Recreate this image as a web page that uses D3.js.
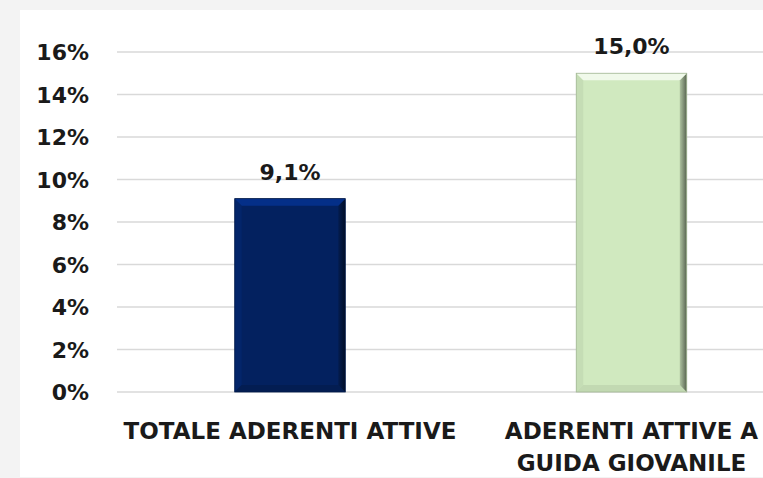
<!DOCTYPE html>
<html>
<head>
<meta charset="utf-8">
<script src="https://cdn.jsdelivr.net/npm/d3@7"></script>
<style>
  html, body { margin: 0; padding: 0; background: #f3f3f3; }
  svg { display: block; }
</style>
</head>
<body>
<svg id="chart" width="763" height="478"></svg>
<script>
// ---- data ----
const categories = ["TOTALE ADERENTI ATTIVE", "ADERENTI ATTIVE A GUIDA GIOVANILE"];
const categoryLines = [["TOTALE ADERENTI ATTIVE"], ["ADERENTI ATTIVE A", "GUIDA GIOVANILE"]];
const values = [0.091, 0.150];
const valueLabels = ["9,1%", "15,0%"];
const yTicks = [0, 0.02, 0.04, 0.06, 0.08, 0.10, 0.12, 0.14, 0.16];
const yTickLabels = ["0%", "2%", "4%", "6%", "8%", "10%", "12%", "14%", "16%"];
const barColors = ["#03215f", "#d0e9bf"];

// ---- layout ----
const W = 763, H = 478;
const svg = d3.select("#chart");
const font = "'DejaVu Sans', sans-serif";

svg.append("rect").attr("x", 20).attr("y", 10).attr("width", W - 20).attr("height", H - 11).attr("fill", "#ffffff");

const x = d3.scaleBand().domain(categories).range([119.25, 802.25]).paddingInner(0.6764).paddingOuter(0.3382);
const y = d3.scaleLinear().domain([0, 0.16]).range([392, 52]);

// gridlines
svg.append("g").selectAll("line").data(yTicks).join("line")
  .attr("x1", 117).attr("x2", W)
  .attr("y1", d => y(d)).attr("y2", d => y(d))
  .attr("stroke", "#d9d9d9").attr("stroke-width", 1.6);

// y tick labels
svg.append("g").selectAll("text").data(yTicks).join("text")
  .attr("x", 89).attr("y", d => y(d) + 8)
  .attr("text-anchor", "end")
  .attr("font-family", font).attr("font-weight", "bold").attr("font-size", 22)
  .attr("fill", "#1a1a1a")
  .text((d, i) => yTickLabels[i]);

// gradients for right bevel edges
const defs = svg.append("defs");
barColors.forEach((c, i) => {
  const g = defs.append("linearGradient").attr("id", "rg" + i).attr("x1", "0").attr("x2", "1").attr("y1", "0").attr("y2", "0");
  g.append("stop").attr("offset", "0").attr("stop-color", d3.color(c).darker(0.5));
  g.append("stop").attr("offset", "1").attr("stop-color", d3.color(c).darker(i === 0 ? 2.5 : 2.4));
});

// bars
const bars = svg.append("g");
categories.forEach((cat, i) => {
  const x0 = x(cat), x1 = x0 + x.bandwidth();
  const y0 = y(values[i]), y1 = y(0);
  const b = 7;
  const c = d3.color(barColors[i]);
  const g = bars.append("g");
  g.append("rect").attr("x", x0).attr("y", y0).attr("width", x1 - x0).attr("height", y1 - y0).attr("fill", c);
  // left bevel
  g.append("polygon").attr("points", [[x0, y0], [x0 + b, y0 + b], [x0 + b, y1 - b], [x0, y1]].join(" "))
    .attr("fill", i === 0 ? c.brighter(0.3) : c.darker(0.15));
  // bottom bevel
  g.append("polygon").attr("points", [[x0, y1], [x0 + b, y1 - b], [x1 - b, y1 - b], [x1, y1]].join(" "))
    .attr("fill", i === 0 ? c.darker(0.4) : c.darker(0.2));
  // right bevel
  g.append("polygon").attr("points", [[x1, y0], [x1 - b, y0 + b], [x1 - b, y1 - b], [x1, y1]].join(" "))
    .attr("fill", "url(#rg" + i + ")");
  // top bevel
  g.append("polygon").attr("points", [[x0, y0], [x1, y0], [x1 - b, y0 + b], [x0 + b, y0 + b]].join(" "))
    .attr("fill", i === 0 ? c.brighter(1.0) : d3.color("#f0f9ea"));
  // outline
  g.append("rect").attr("x", x0).attr("y", y0).attr("width", x1 - x0).attr("height", y1 - y0)
    .attr("fill", "none").attr("stroke", c.darker(0.7)).attr("stroke-width", 0.8);
});

// value labels
svg.append("g").selectAll("text").data(categories).join("text")
  .attr("x", d => x(d) + x.bandwidth() / 2)
  .attr("y", (d, i) => y(values[i]) - 19)
  .attr("text-anchor", "middle")
  .attr("font-family", font).attr("font-weight", "bold").attr("font-size", 22)
  .attr("fill", "#1a1a1a")
  .text((d, i) => valueLabels[i]);

// category labels
const cl = svg.append("g");
categories.forEach((cat, i) => {
  const t = cl.append("text")
    .attr("x", x(cat) + x.bandwidth() / 2)
    .attr("y", 439)
    .attr("text-anchor", "middle")
    .attr("font-family", font).attr("font-weight", "bold").attr("font-size", 23)
    .attr("fill", "#1a1a1a");
  categoryLines[i].forEach((line, j) => {
    t.append("tspan").attr("x", x(cat) + x.bandwidth() / 2).attr("dy", j === 0 ? 0 : 32).text(line);
  });
});
</script>
</body>
</html>
